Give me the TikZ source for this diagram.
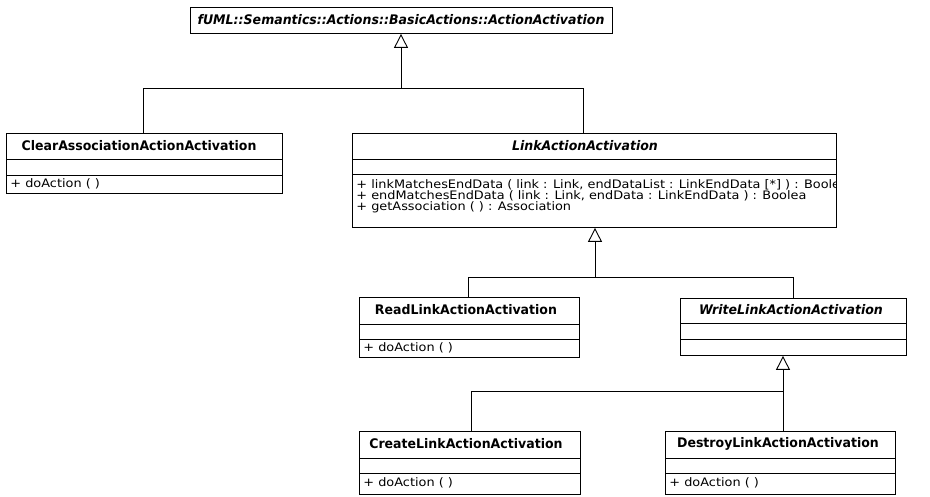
\documentclass[tikz,border=0pt]{standalone}
\usepackage{fontspec}
\setmainfont{DejaVu Sans}[FakeStretch=0.95]
\newfontfamily\opfont{DejaVu Sans}[FakeStretch=1.1]
\usetikzlibrary{arrows.meta}

\begin{document}
\begin{tikzpicture}[x=1pt,y=-1pt,line width=0.9pt,
  box/.style={draw,anchor=north west,inner sep=0pt},
  title/.style={font=\fontsize{13.2}{15}\selectfont\bfseries},
  abstitle/.style={font=\fontsize{13.2}{15}\selectfont\bfseries\itshape},
  op/.style={anchor=base west,inner sep=0pt,text height=8pt,text depth=2pt,
    font=\opfont\fontsize{11.7}{13}\selectfont},
  gen/.style={-{Triangle[open,width=14pt,length=14pt]}}]
\useasboundingbox (0,0) rectangle (930,497);

% base class
\node[box,minimum width=422,minimum height=26] (base) at (190,7) {};
\node[abstitle] (basename) at (401,20) {fUML::Semantics::Actions::BasicActions::ActionActivation};

% first level
\node[box,minimum width=276,minimum height=60] (clear) at (6,133) {};
\draw (clear.west |- 0,159) -- (clear.east |- 0,159);
\draw (clear.west |- 0,175) -- (clear.east |- 0,175);
\node[title] (clearname) at (139,146) {ClearAssociationActionActivation};
\node[op] (clearop) at (10,188) {+ doAction ( )};

\node[box,minimum width=484,minimum height=94] (link) at (352,133) {};
\draw (link.west |- 0,159) -- (link.east |- 0,159);
\draw (link.west |- 0,174) -- (link.east |- 0,174);
\node[abstitle] (linkname) at (585,146) {LinkActionActivation};
\begin{scope}
\clip (link.north west) rectangle (link.south east);
\node[op] (linkop1) at (356,189) {+ linkMatchesEndData ( link : Link, endDataList : LinkEndData [*] ) : Boolean};
\end{scope}
\begin{scope}
\clip (link.north west) rectangle (806,227);
\node[op] (linkop2) at (356,200) {+ endMatchesEndData ( link : Link, endData : LinkEndData ) : Boolean};
\end{scope}
\node[op] (linkop3) at (356,211) {+ getAssociation ( ) : Association};

% second level
\node[box,minimum width=220,minimum height=60] (read) at (359,297) {};
\draw (read.west |- 0,324) -- (read.east |- 0,324);
\draw (read.west |- 0,339) -- (read.east |- 0,339);
\node[title] (readname) at (466,310) {ReadLinkActionActivation};
\node[op] (readop) at (363,351.5) {+ doAction ( )};

\node[box,minimum width=226,minimum height=57] (write) at (680,298) {};
\draw (write.west |- 0,323) -- (write.east |- 0,323);
\draw (write.west |- 0,339) -- (write.east |- 0,339);
\node[abstitle] (writename) at (791,310) {WriteLinkActionActivation};

% third level
\node[box,minimum width=221,minimum height=63] (create) at (359,431) {};
\draw (create.west |- 0,458) -- (create.east |- 0,458);
\draw (create.west |- 0,473) -- (create.east |- 0,473);
\node[title] (createname) at (466,444) {CreateLinkActionActivation};
\node[op] (createop) at (363,486.5) {+ doAction ( )};

\node[box,minimum width=230,minimum height=63] (destroy) at (665,431) {};
\draw (destroy.west |- 0,458) -- (destroy.east |- 0,458);
\draw (destroy.west |- 0,473) -- (destroy.east |- 0,473);
\node[title] (destroyname) at (778,444) {DestroyLinkActionActivation};
\node[op] (destroyop) at (669,486.5) {+ doAction ( )};

% generalizations
\coordinate (j1) at (401,88);
\coordinate (j1r) at (583,88);
\draw[gen] (j1) -- (base.south -| j1);
\draw (clear.north -| 143,0) |- (j1r) -- (link.north -| j1r);

\coordinate (j2) at (595,277);
\coordinate (j2r) at (793,277);
\draw[gen] (j2) -- (link.south -| j2);
\draw (read.north -| 468,0) |- (j2r) -- (write.north -| j2r);

\coordinate (j3) at (783,391);
\coordinate (j3l) at (471,391);
\draw[gen] (j3) -- (write.south -| j3);
\draw (create.north -| j3l) |- (j3) -- (destroy.north -| j3);
\end{tikzpicture}
\end{document}
